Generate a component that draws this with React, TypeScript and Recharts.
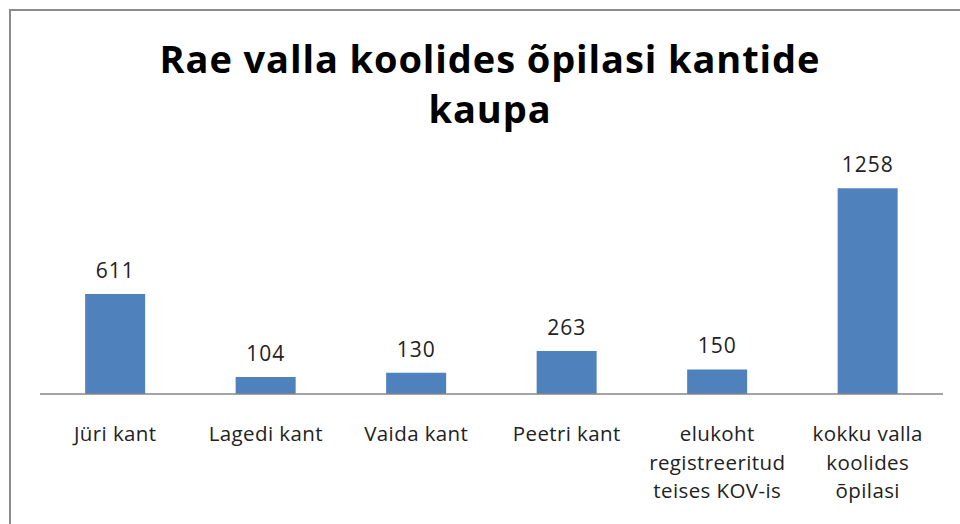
import { Bar, BarChart, LabelList, XAxis, YAxis } from "recharts";

const categories = [
  "Jüri kant",
  "Lagedi kant",
  "Vaida kant",
  "Peetri kant",
  "elukoht\nregistreeritud\nteises KOV-is",
  "kokku valla\nkoolides\nõpilasi",
];
const students = [611, 104, 130, 263, 150, 1258];

const data = categories.map((name, i) => ({ name, value: students[i] }));

const FONT = "'Open Sans', 'Noto Sans', sans-serif";

function CategoryTick({ x, y, payload }: any) {
  const lines = String(payload.value).split("\n");
  return (
    <text
      x={x}
      y={y + 39}
      textAnchor="middle"
      fill="#222"
      fontSize={20.5}
      letterSpacing={0.4}
      fontFamily={FONT}
    >
      {lines.map((line, i) => (
        <tspan key={i} x={x} dy={i === 0 ? 0 : 28.5}>
          {line}
        </tspan>
      ))}
    </text>
  );
}

export default function App() {
  return (
    <div style={{ position: "absolute", left: 0, top: 0, width: 960, height: 524, background: "#fff", overflow: "hidden" }}>
      <div
        style={{
          position: "absolute",
          left: 9,
          top: 9,
          width: 970,
          height: 540,
          border: "2.5px solid #8c8c8c",
          boxSizing: "border-box",
        }}
      />
      <div
        style={{
          position: "absolute",
          left: 0,
          top: 33,
          width: 980,
          textAlign: "center",
          fontFamily: FONT,
          fontWeight: 700,
          fontSize: 38,
          letterSpacing: 0.9,
          lineHeight: "50px",
          color: "#000",
        }}
      >
        Rae valla koolides õpilasi kantide
        <br />
        kaupa
      </div>
      <div style={{ position: "absolute", left: 0, top: 0 }}>
        <BarChart
          width={960}
          height={524}
          data={data}
          margin={{ top: 165, right: 17, left: 40, bottom: 0 }}
          barCategoryGap="30%"
        >
          <XAxis
            dataKey="name"
            interval={0}
            tickLine={false}
            axisLine={{ stroke: "#868686", strokeWidth: 1.5 }}
            tick={<CategoryTick />}
            height={130}
          />
          <YAxis hide domain={[0, 1400]} width={0} />
          <Bar dataKey="value" fill="#4F81BD" isAnimationActive={false}>
            <LabelList
              dataKey="value"
              position="top"
              offset={16}
              fill="#222"
              fontSize={21}
              letterSpacing={1}
              fontFamily={FONT}
            />
          </Bar>
        </BarChart>
      </div>
    </div>
  );
}
